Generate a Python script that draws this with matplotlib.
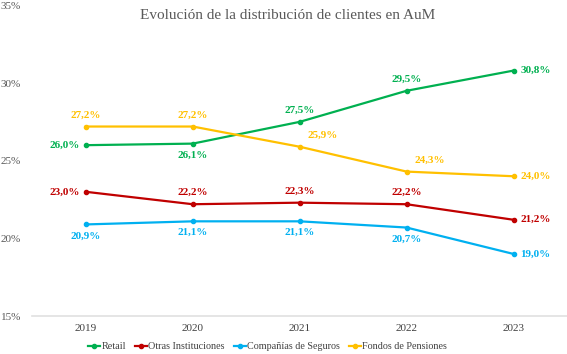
import matplotlib.pyplot as plt

years = ["2019", "2020", "2021", "2022", "2023"]
retail = [26.0, 26.1, 27.5, 29.5, 30.8]
otras = [23.0, 22.2, 22.3, 22.2, 21.2]
seguros = [20.9, 21.1, 21.1, 20.7, 19.0]
pensiones = [27.2, 27.2, 25.9, 24.3, 24.0]

names = ["Retail", "Otras Instituciones", "Compañías de Seguros", "Fondos de Pensiones"]
colors = ["#00B050", "#C00000", "#00B0F0", "#FFC000"]
# label placement per point: l=left, r=right, a=above, b=below, ar=above-right
places = [
    ["l", "b", "a", "a", "r"],
    ["l", "a", "a", "a", "r"],
    ["b", "b", "b", "b", "r"],
    ["a", "a", "ar", "ar", "r"],
]

plt.rcParams["font.family"] = ["Liberation Serif", "DejaVu Serif"]

fig = plt.figure(figsize=(5.67, 3.54), dpi=100)
ax = fig.add_axes([0.057, 0.107, 0.943, 0.878])

x = list(range(len(years)))
offs = {"l": (-4, 0, "right", "center"), "r": (5, 0, "left", "center"),
        "a": (0, 5, "center", "bottom"), "b": (0, -5, "center", "top"),
        "ar": (6, 5, "left", "bottom")}

for vals, name, c, pl in zip([retail, otras, seguros, pensiones], names, colors, places):
    ax.plot(x, vals, color=c, lw=1.6, marker="o", ms=3, label=name)
    for xi, v, p in zip(x, vals, pl):
        dx, dy, ha, va = offs[p]
        ax.annotate(f"{v:.1f}%".replace(".", ","), (xi, v), xytext=(dx, dy),
                    textcoords="offset points", ha=ha, va=va, color=c,
                    fontsize=8, fontweight="bold")

ax.set_xlim(-0.5, 4.5)
ax.set_ylim(15, 35)
ax.set_yticks([15, 20, 25, 30, 35])
ax.set_yticklabels(["15%", "20%", "25%", "30%", "35%"], color="#595959", fontsize=8)
ax.set_xticks(x)
ax.set_xticklabels(years, color="#404040", fontsize=8)
ax.tick_params(length=0, pad=6)
ax.tick_params(axis="y", pad=8)
for s in ["top", "right", "left"]:
    ax.spines[s].set_visible(False)
ax.spines["bottom"].set_color("#e0e0e0")
ax.spines["bottom"].set_linewidth(1.2)

fig.text(0.508, 0.955, "Evolución de la distribución de clientes en AuM",
         ha="center", va="center", fontsize=11, color="#595959")

fig.legend(loc="center", bbox_to_anchor=(0.472, 0.02), ncol=4, frameon=False,
           fontsize=7.3, handlelength=1.2, handletextpad=0.1, columnspacing=0.9,
           labelcolor="#404040", borderpad=0)

fig.savefig("out.png", dpi=100)
